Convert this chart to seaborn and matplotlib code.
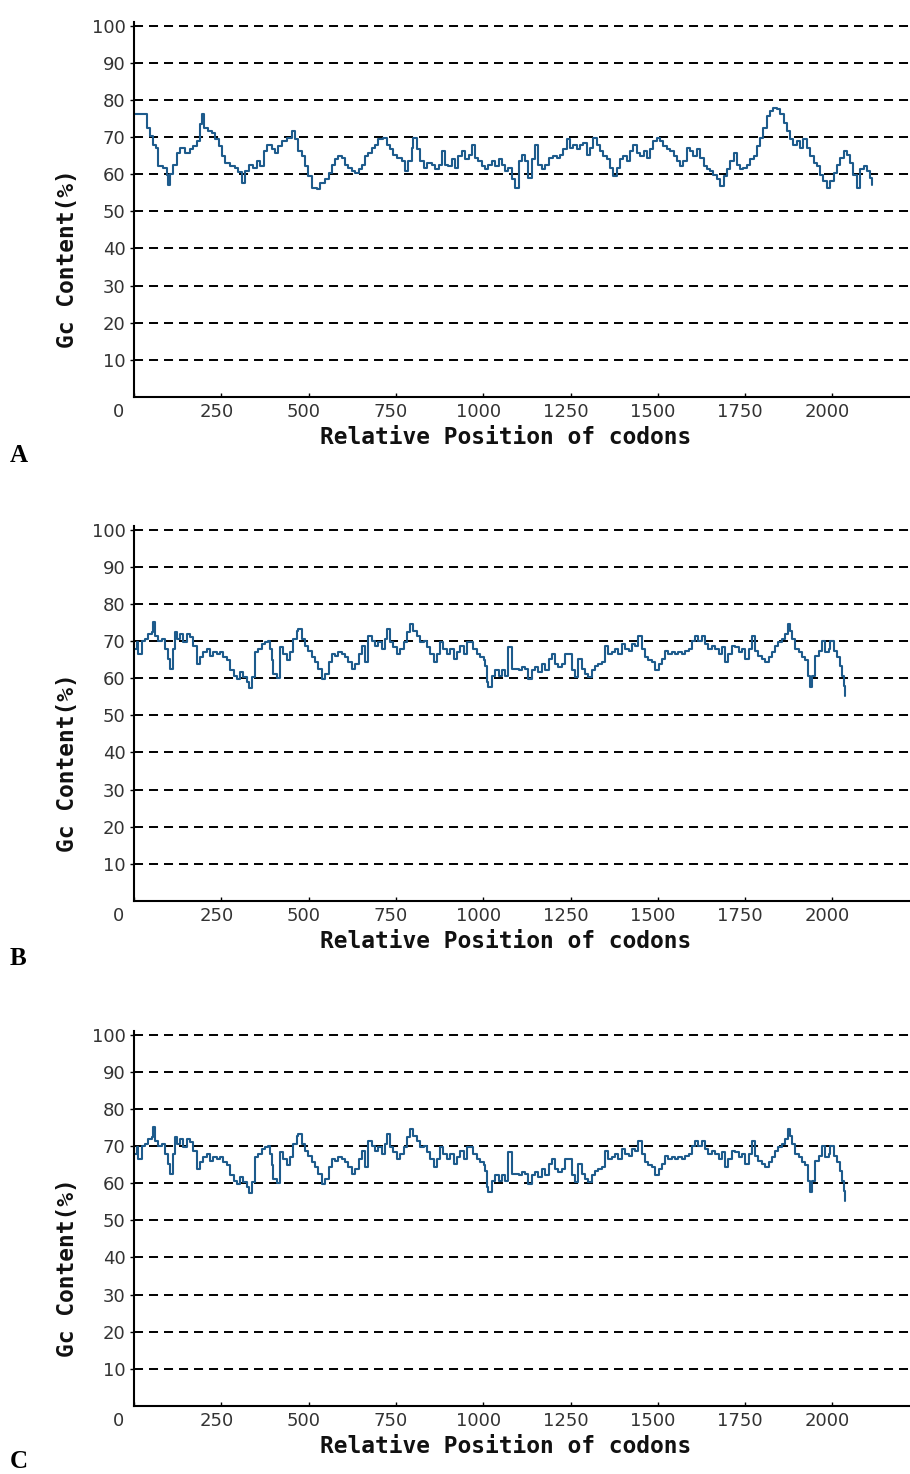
import matplotlib
matplotlib.use("Agg")
import matplotlib.pyplot as plt
import matplotlib.transforms as mtransforms
import seaborn as sns
import pandas as pd

# ---------------- data ----------------
codon_a = [3, 22, 36, 46, 55, 63, 70, 84, 94, 98, 103, 113, 122, 132, 146, 160, 170, 180, 189, 194,
           200, 213, 222, 232, 242, 251, 261, 275, 289, 299, 308, 318, 328, 342, 351, 361, 371, 380, 394, 404,
           413, 423, 437, 452, 461, 471, 480, 490, 499, 509, 523, 533, 547, 557, 566, 576, 585, 595, 604, 614,
           624, 633, 643, 652, 662, 671, 681, 690, 700, 714, 724, 733, 743, 752, 767, 776, 786, 795, 800, 810,
           819, 829, 838, 853, 862, 872, 881, 891, 900, 910, 920, 929, 939, 948, 958, 967, 977, 986, 996, 1006,
           1015, 1025, 1034, 1044, 1053, 1063, 1072, 1082, 1092, 1101, 1110, 1120, 1129, 1139, 1148, 1158, 1167, 1177, 1187, 1201,
           1210, 1220, 1229, 1239, 1249, 1258, 1268, 1277, 1287, 1296, 1306, 1315, 1325, 1335, 1344, 1354, 1363, 1373, 1382, 1392,
           1401, 1411, 1420, 1430, 1440, 1449, 1459, 1468, 1478, 1487, 1497, 1506, 1516, 1526, 1535, 1545, 1554, 1564, 1573, 1583,
           1592, 1602, 1611, 1621, 1631, 1640, 1650, 1659, 1669, 1678, 1688, 1697, 1707, 1717, 1726, 1736, 1745, 1755, 1764, 1774,
           1783, 1793, 1802, 1812, 1822, 1831, 1841, 1850, 1860, 1869, 1879, 1888, 1898, 1908, 1917, 1927, 1936, 1946, 1955, 1965,
           1974, 1984, 1993, 2003, 2013, 2022, 2032, 2041, 2051, 2060, 2070, 2079, 2089, 2099, 2108, 2113]
gc_a = [76.3, 76.1, 72.5, 70.3, 68.0, 67.1, 62.2, 61.7, 59.9, 57.2, 60.1, 62.6, 65.8, 67.1, 65.8, 66.7, 67.6, 68.9, 73.4, 76.3,
        72.5, 71.6, 71.2, 69.4, 67.6, 64.9, 63.1, 62.2, 61.7, 60.6, 57.7, 60.8, 62.6, 61.7, 63.5, 62.2, 66.2, 68.0, 66.7, 65.8,
        67.6, 68.9, 69.8, 71.6, 69.4, 66.2, 64.9, 62.2, 59.5, 56.3, 55.9, 57.7, 58.6, 60.4, 62.6, 64.0, 64.9, 64.4, 62.6, 61.7,
        60.8, 60.4, 61.3, 62.6, 64.9, 65.8, 67.1, 68.0, 69.4, 69.8, 68.0, 66.7, 65.3, 64.4, 63.5, 60.8, 63.5, 67.1, 69.8, 66.7,
        63.5, 61.7, 63.1, 62.6, 61.3, 62.6, 66.2, 62.6, 62.2, 64.0, 61.7, 64.9, 66.2, 64.0, 65.3, 68.0, 64.4, 63.5, 62.2, 61.3,
        62.6, 63.5, 62.2, 64.0, 62.6, 60.8, 61.7, 58.6, 56.3, 63.5, 65.3, 63.5, 59.0, 64.0, 68.0, 62.6, 61.3, 62.6, 64.4, 64.9,
        64.4, 65.3, 66.7, 69.4, 67.1, 68.0, 66.7, 68.0, 68.5, 65.3, 67.1, 69.8, 68.0, 66.2, 64.9, 64.0, 61.7, 59.5, 61.7, 64.0,
        64.9, 63.5, 66.2, 68.0, 65.8, 64.9, 66.2, 64.4, 66.7, 68.9, 69.8, 68.9, 67.6, 66.7, 66.2, 64.9, 63.5, 62.2, 63.5, 67.1,
        66.2, 64.9, 66.7, 64.4, 62.2, 61.3, 60.8, 59.9, 58.6, 56.8, 59.5, 61.3, 63.5, 65.8, 62.6, 61.3, 61.7, 62.6, 64.0, 64.9,
        67.6, 69.8, 72.5, 75.7, 77.0, 77.9, 77.5, 76.1, 73.9, 71.6, 69.4, 68.0, 68.9, 67.1, 69.4, 67.1, 64.9, 63.1, 62.2, 59.9,
        58.1, 56.3, 58.1, 60.4, 62.6, 64.4, 66.2, 65.3, 63.1, 59.9, 56.3, 61.3, 62.2, 60.8, 59.0, 57.2]

codon_b = [0, 8, 12, 22, 31, 41, 51, 55, 60, 70, 79, 89, 98, 103, 111, 117, 122, 132, 141, 151,
           160, 170, 180, 189, 199, 208, 218, 227, 237, 246, 256, 266, 275, 285, 294, 304, 313, 323, 330, 337,
           347, 356, 366, 375, 385, 390, 394, 399, 409, 418, 428, 437, 447, 456, 466, 471, 480, 490, 499, 509,
           518, 528, 538, 547, 557, 566, 576, 585, 595, 604, 614, 624, 633, 643, 652, 662, 671, 681, 690, 700,
           710, 719, 724, 733, 743, 752, 762, 772, 781, 791, 800, 810, 819, 829, 838, 848, 858, 867, 877, 886,
           896, 905, 915, 924, 934, 944, 953, 963, 972, 982, 991, 1001, 1006, 1010, 1015, 1025, 1034, 1044, 1053, 1063,
           1072, 1082, 1091, 1101, 1110, 1120, 1129, 1139, 1148, 1158, 1167, 1177, 1187, 1196, 1206, 1215, 1225, 1234, 1244, 1253,
           1263, 1272, 1282, 1292, 1301, 1311, 1320, 1330, 1339, 1349, 1358, 1368, 1378, 1387, 1397, 1406, 1416, 1425, 1435, 1444,
           1454, 1463, 1473, 1483, 1492, 1502, 1511, 1521, 1530, 1540, 1549, 1559, 1569, 1578, 1588, 1597, 1607, 1616, 1626, 1635,
           1645, 1654, 1664, 1674, 1683, 1693, 1702, 1712, 1721, 1731, 1740, 1750, 1760, 1769, 1779, 1788, 1798, 1807, 1817, 1826,
           1836, 1845, 1855, 1865, 1874, 1879, 1884, 1893, 1903, 1912, 1922, 1931, 1936, 1941, 1951, 1960, 1970, 1979, 1989, 1993,
           2003, 2013, 2022, 2027, 2032, 2036]
gc_b = [67.9, 69.7, 66.5, 70.1, 70.6, 71.9, 72.4, 75.1, 71.5, 70.1, 70.6, 67.9, 65.2, 62.5, 67.9, 72.4, 70.6, 71.9, 69.7, 71.9,
        71.0, 68.8, 63.9, 65.7, 67.0, 67.9, 66.1, 67.0, 66.5, 67.0, 65.7, 64.8, 62.1, 60.7, 59.8, 61.6, 60.3, 58.9, 57.3, 60.3,
        67.0, 67.9, 69.2, 69.7, 70.1, 67.9, 64.8, 61.2, 60.0, 68.3, 66.5, 64.8, 67.0, 70.6, 72.8, 73.3, 70.6, 68.8, 67.4, 65.7,
        64.3, 62.5, 59.8, 61.2, 64.3, 66.5, 66.1, 67.0, 66.5, 65.7, 64.3, 62.5, 63.9, 66.5, 68.8, 64.3, 71.5, 70.1, 68.8, 69.7,
        67.9, 70.6, 73.3, 69.7, 68.3, 66.5, 67.9, 69.7, 72.4, 74.6, 72.8, 71.5, 69.7, 70.1, 68.3, 66.5, 64.3, 66.5, 69.7, 67.9,
        66.5, 67.9, 65.2, 67.0, 68.8, 66.5, 69.7, 69.7, 67.9, 66.5, 65.7, 64.8, 63.4, 58.9, 57.6, 60.7, 62.1, 60.7, 62.1, 60.7,
        68.3, 62.5, 62.5, 62.1, 63.0, 62.5, 59.8, 62.1, 63.0, 61.6, 63.9, 62.1, 65.2, 66.5, 63.9, 63.0, 63.9, 66.5, 66.5, 62.1,
        60.3, 65.2, 62.5, 61.2, 60.3, 62.1, 63.4, 63.9, 64.3, 68.8, 66.5, 67.0, 67.9, 66.5, 69.2, 67.9, 67.4, 69.2, 68.8, 71.5,
        67.9, 65.7, 64.8, 64.3, 62.1, 63.9, 65.2, 67.4, 66.5, 67.0, 66.5, 67.0, 66.5, 67.4, 67.9, 70.1, 71.5, 70.1, 71.5, 69.2,
        67.9, 68.8, 67.9, 66.5, 68.3, 64.3, 66.5, 68.8, 68.3, 67.0, 67.9, 65.2, 67.9, 71.5, 67.4, 66.1, 65.2, 64.3, 65.7, 67.0,
        68.8, 69.7, 70.6, 71.9, 74.6, 72.8, 70.6, 67.9, 67.0, 65.7, 64.8, 60.7, 57.6, 60.7, 66.1, 67.4, 70.1, 67.0, 67.9, 70.1,
        67.4, 65.7, 63.4, 60.7, 58.0, 55.3]

# panel C shows the same profile as panel B
codon_c = list(codon_b)
gc_c = list(gc_b)

panel_letters = ["A", "B", "C"]
x_ticks = [0, 250, 500, 750, 1000, 1250, 1500, 1750, 2000]
y_ticks = [10, 20, 30, 40, 50, 60, 70, 80, 90, 100]
x_label = "Relative Position of codons"
y_label = "Gc Content(%)"

# ---------------- style ----------------
sns.set_theme(style="white")
plt.rcParams["font.family"] = ["DejaVu Sans"]
plt.rcParams["lines.scale_dashes"] = False

W, H = 910, 1474
fig = plt.figure(figsize=(W / 100, H / 100), dpi=100)

line_color = "#1d5b8c"
axes_px = [(134, 397), (134, 901), (134, 1406)]  # (left, bottom) in pixels from top-left
ax_w, ax_h = 776, 375
letter_y = [455, 958, 1462]

series = [(codon_a, gc_a), (codon_b, gc_b), (codon_c, gc_c)]

for i, ((cx, cy), (xs, ys)) in enumerate(zip(axes_px, series)):
    ax = fig.add_axes([cx / W, 1 - cy / H, ax_w / W, ax_h / H])
    df = pd.DataFrame({"codon": xs, "gc": ys})
    sns.lineplot(data=df, x="codon", y="gc", ax=ax, color=line_color,
                 linewidth=1.5, drawstyle="steps-post", estimator=None, sort=False)
    ax.set_xlim(0, 2222)
    ax.set_ylim(0, 101)
    ax.set_xticks(x_ticks)
    ax.set_xticklabels([str(t) for t in x_ticks])
    ax.set_yticks(y_ticks)
    ax.set_yticklabels([str(t) for t in y_ticks])

    ax.yaxis.grid(True, color="black", linestyle=(0, (6.5, 4.3)), linewidth=1.4)
    ax.xaxis.grid(False)
    ax.set_axisbelow(True)

    for s in ["top", "right"]:
        ax.spines[s].set_visible(False)
    for s in ["left", "bottom"]:
        ax.spines[s].set_color("black")
        ax.spines[s].set_linewidth(1.5)

    ax.tick_params(axis="x", direction="in", length=3, width=1, color="black",
                   labelsize=13, labelcolor="#333333", pad=4)
    ax.tick_params(axis="y", direction="out", length=3, width=1, color="black",
                   labelsize=13, labelcolor="#333333", pad=3)
    ax.tick_params(left=True, bottom=True)

    for t in ax.xaxis.get_major_ticks():
        lab = t.label1
        dx = -0.16 if lab.get_text() == "0" else -0.05
        lab.set_transform(lab.get_transform() +
                          mtransforms.ScaledTranslation(dx, 0, fig.dpi_scale_trans))

    ax.set_xlabel(x_label, family="DejaVu Sans Mono", fontweight="bold",
                  fontsize=16.5, color="#111111")
    ax.xaxis.set_label_coords(0.479, -0.109)
    ax.xaxis.label.set_va("center")
    ax.set_ylabel(y_label, family="DejaVu Sans Mono", fontweight="bold",
                  fontsize=16.5, color="#111111")
    ax.yaxis.set_label_coords(-0.0863, 0.368)
    ax.yaxis.label.set_va("center")

    fig.text(10 / W, 1 - letter_y[i] / H, panel_letters[i], ha="left", va="center",
             family="Liberation Serif", fontweight="bold", fontsize=18, color="black")

fig.savefig("out.png", dpi=100, facecolor="white")
